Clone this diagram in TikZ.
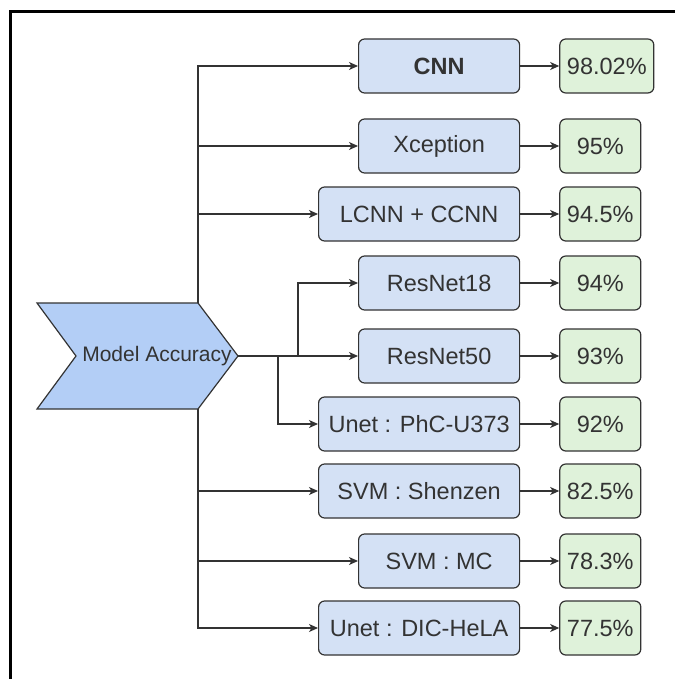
\documentclass[tikz,border=0pt]{standalone}
\usepackage{fontspec}
\setmainfont{Liberation Sans}
\usetikzlibrary{positioning,arrows.meta}
\definecolor{modelfill}{HTML}{D4E1F5}
\definecolor{scorefill}{HTML}{DFF2DA}
\definecolor{chevfill}{HTML}{B3CEF6}
\definecolor{edge}{HTML}{333333}
\tikzset{
  >={Stealth[length=9pt,width=8pt,inset=2.5pt]},
  model/.style={rectangle, rounded corners=6pt, draw=edge, line width=1.2pt, fill=modelfill,
                minimum height=54pt, text=edge, font=\fontsize{23.5}{28}\selectfont, inner sep=0pt},
  score/.style={model, fill=scorefill, minimum width=81pt},
  line/.style={draw, line width=1.2pt, color=edge, ->}
}

\begin{document}
\begin{tikzpicture}[x=1pt,y=-1pt]
    \useasboundingbox (0,0) rectangle (675,679);
    % Draw frame
    \draw [line width=3pt] (10,679) -- (10,12) -- (675,12);
    % Chevron
    \draw [edge, fill=chevfill, line width=1.2pt]
          (37,303) -- (198,303) coordinate (accne)
          -- (238,356) coordinate (acctip)
          -- (198,409) coordinate (accse)
          -- (37,409) -- (76,356) -- cycle;
    \node (acc) at (157,356) [text=edge, font=\fontsize{21}{25}\selectfont] {Model Accuracy};
    \coordinate (jr) at (298,356);
    \coordinate (jp) at (278,356);

    % Models
    \node [model, minimum width=161pt, anchor=west] (cnn)   at (358,66)  {\textbf{CNN}};
    \node [model, minimum width=161pt, anchor=west] (xcp)   at (358,146) {Xception};
    \node [model, minimum width=201pt, anchor=west] (lcnn)  at (318,214) {LCNN + CCNN};
    \node [model, minimum width=161pt, anchor=west] (res18) at (358,283) {ResNet18};
    \node [model, minimum width=161pt, anchor=west] (res50) at (358,356) {ResNet50};
    \node [model, minimum width=201pt, anchor=west] (phc)   at (318,424) {Unet : PhC-U373};
    \node [model, minimum width=201pt, anchor=west] (shz)   at (318,491) {SVM : Shenzen};
    \node [model, minimum width=161pt, anchor=west] (mc)    at (358,561) {SVM : MC};
    \node [model, minimum width=201pt, anchor=west] (hela)  at (318,628) {Unet : DIC-HeLA};

    % Accuracies
    \node [score, minimum width=94pt, right=39pt of cnn] (acnn) {98.02\%};
    \node [score, right=39pt of xcp]   (axcp)   {95\%};
    \node [score, right=39pt of lcnn]  (alcnn)  {94.5\%};
    \node [score, right=39pt of res18] (ares18) {94\%};
    \node [score, right=39pt of res50] (ares50) {93\%};
    \node [score, right=39pt of phc]   (aphc)   {92\%};
    \node [score, right=39pt of shz]   (ashz)   {82.5\%};
    \node [score, right=39pt of mc]    (amc)    {78.3\%};
    \node [score, right=39pt of hela]  (ahela)  {77.5\%};

    % Connectors
    \draw [line] (accne) |- (cnn);
    \draw [line] (accne) |- (xcp);
    \draw [line] (accne) |- (lcnn);
    \draw [line] (acctip) -- (res50);
    \draw [line] (jr) |- (res18);
    \draw [line] (jp) |- (phc);
    \draw [line] (accse) |- (shz);
    \draw [line] (accse) |- (mc);
    \draw [line] (accse) |- (hela);

    \draw [line] (cnn) -- (acnn);
    \draw [line] (xcp) -- (axcp);
    \draw [line] (lcnn) -- (alcnn);
    \draw [line] (res18) -- (ares18);
    \draw [line] (res50) -- (ares50);
    \draw [line] (phc) -- (aphc);
    \draw [line] (shz) -- (ashz);
    \draw [line] (mc) -- (amc);
    \draw [line] (hela) -- (ahela);

\end{tikzpicture}
\end{document}
